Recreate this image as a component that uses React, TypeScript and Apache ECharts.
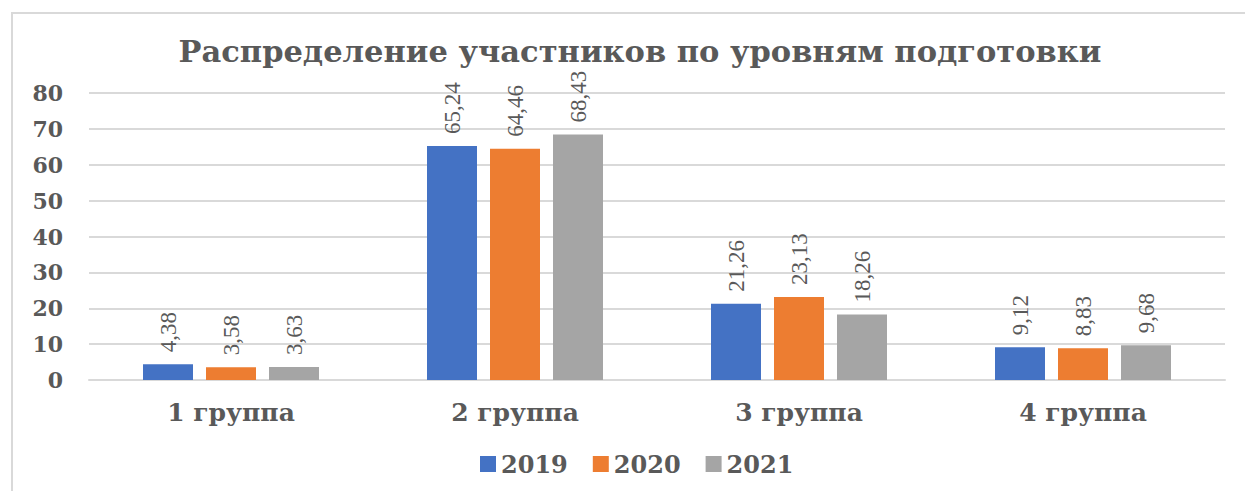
import React, { useEffect, useRef } from "react";
import * as echarts from "echarts";

const categories = ["1 группа", "2 группа", "3 группа", "4 группа"];
const seriesNames = ["2019", "2020", "2021"];
const values2019 = [4.38, 65.24, 21.26, 9.12];
const values2020 = [3.58, 64.46, 23.13, 8.83];
const values2021 = [3.63, 68.43, 18.26, 9.68];
const colors = ["#4472C4", "#ED7D31", "#A5A5A5"];
const titleText = "Распределение участников по уровням подготовки";

export default function App() {
  const ref = useRef<HTMLDivElement>(null);
  useEffect(() => {
    if (!ref.current) return;
    const chart = echarts.init(ref.current, null, { renderer: "svg" });
    const allValues = [values2019, values2020, values2021];
    const serif = "DejaVu Serif";
    const labelFont = "Liberation Serif";
    chart.setOption({
      animation: false,
      backgroundColor: "#ffffff",
      title: {
        text: titleText,
        left: 635,
        textAlign: "center",
        top: 30,
        textStyle: {
          fontFamily: serif,
          fontWeight: "bold",
          fontSize: 30.5,
          color: "#595959",
        },
      },
      legend: {
        data: seriesNames,
        left: 475,
        top: 447,
        itemWidth: 16,
        itemHeight: 16,
        itemGap: 25,
        icon: "rect",
        textStyle: {
          fontFamily: serif,
          fontWeight: "bold",
          fontSize: 24,
          color: "#595959",
        },
      },
      grid: { left: 89, right: 20, top: 93, bottom: 111, containLabel: false },
      xAxis: {
        type: "category",
        data: categories,
        axisTick: { show: false },
        axisLine: { lineStyle: { color: "#d9d9d9", width: 2 } },
        axisLabel: {
          margin: 20,
          fontFamily: serif,
          fontWeight: "bold",
          fontSize: 25,
          color: "#595959",
        },
      },
      yAxis: {
        type: "value",
        min: 0,
        max: 80,
        interval: 10,
        axisLine: { show: false },
        axisTick: { show: false },
        splitLine: { lineStyle: { color: "#d9d9d9", width: 2 } },
        axisLabel: {
          margin: 26,
          fontFamily: serif,
          fontWeight: "bold",
          fontSize: 22,
          color: "#595959",
        },
      },
      graphic: [
        {
          type: "rect",
          shape: { x: 12, y: 13, width: 1400, height: 700 },
          style: { fill: "none", stroke: "#d9d9d9", lineWidth: 2 },
          silent: true,
        },
      ],
      series: seriesNames.map((name, i) => ({
        name,
        type: "bar",
        data: allValues[i],
        barWidth: 50,
        barGap: "26%",
        itemStyle: { color: colors[i] },
        label: {
          show: true,
          position: "top",
          rotate: 90,
          align: "left",
          verticalAlign: "middle",
          distance: 12,
          fontFamily: labelFont,
          fontSize: 23,
          color: "#595959",
          formatter: (p: any) => String(p.value).replace(".", ","),
        },
      })),
    });
    return () => chart.dispose();
  }, []);
  return (
    <div
      ref={ref}
      style={{ position: "fixed", left: 0, top: 0, width: 1245, height: 491 }}
    />
  );
}
